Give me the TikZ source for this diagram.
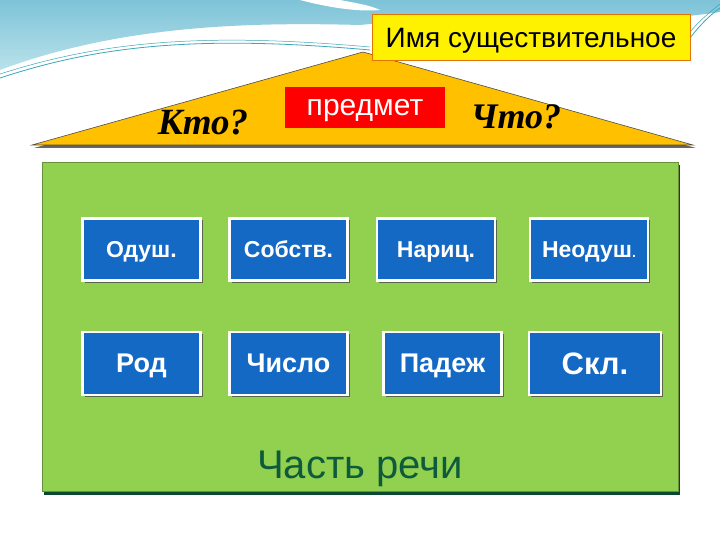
\documentclass[tikz,border=0pt]{standalone}
\usepackage{fontspec}
\setmainfont{Liberation Sans}
\newfontfamily\serifbi{Liberation Serif}
\usetikzlibrary{shadows}
\definecolor{roof}{HTML}{FFC000}
\definecolor{grass}{HTML}{92D050}
\definecolor{bluebox}{HTML}{1469C4}
\definecolor{darkgreen}{HTML}{0E5A3C}
\definecolor{sky}{HTML}{7EC3D8}
\definecolor{skyl}{HTML}{B9E2EA}
\definecolor{teal}{HTML}{3AA6B8}
\tikzset{
  ctext/.style={text depth=0pt},
  bbox/.style={draw=white, line width=2.5pt, fill=bluebox, text=white,
    ctext, minimum width=118pt, minimum height=62pt, inner sep=0pt,
    drop shadow={shadow xshift=2pt, shadow yshift=-2pt, fill=black!70, opacity=0.8}},
}
\begin{document}
\begin{tikzpicture}[x=1pt,y=-1pt]
\useasboundingbox (0,0) rectangle (720,540);
\fill[white] (0,0) rectangle (720,540);
% sky swoosh
\shade[top color=sky, bottom color=skyl] (0,0) -- (720,0) -- (720,12) .. controls (600,30) and (450,15) .. (360,25)
  .. controls (250,22) and (120,25) .. (0,70) -- cycle;
\fill[white] (300,0) .. controls (330,8) and (360,12) .. (380,10) .. controls (370,5) and (350,2) .. (340,0) -- cycle;
\draw[teal, line width=0.8pt] (0,78) .. controls (100,45) and (200,35) .. (370,50);
\draw[teal, line width=0.5pt] (0,74) .. controls (100,42) and (200,32) .. (370,47);
\draw[teal, line width=0.8pt] (690,38) .. controls (700,25) and (710,15) .. (720,8);
\draw[teal, line width=0.5pt] (690,32) .. controls (700,20) and (710,12) .. (720,4);
% roof
\fill[black!60] (34,148) -- (365,56) -- (696,148) -- cycle;
\path[fill=roof, draw=black!70, line width=0.6pt] (32,145) -- (363,52) -- (693,145) -- cycle;
\node[draw=orange!90!black, line width=1pt, fill=yellow, minimum width=318pt, minimum height=46pt, inner sep=0pt, ctext, font=\fontsize{28}{32}\selectfont] (noun) at (531,38) {Имя существительное};
\node[fill=red, text=white, minimum width=160pt, minimum height=41pt, inner sep=0pt, ctext, font=\fontsize{30}{34}\selectfont] (obj) at (365,107.5) {предмет};
\node[font=\serifbi\bfseries\itshape\fontsize{37}{40}\selectfont, ctext] (who) at (203,122) {Кто?};
\node[font=\serifbi\bfseries\itshape\fontsize{36}{40}\selectfont, ctext] (what) at (516,117) {Что?};
% green body
\fill[darkgreen!80!black] (44,165) rectangle (680,495);
\node[fill=grass, draw=grass!70!black, line width=0.5pt, minimum width=636pt, minimum height=329pt, inner sep=0pt, anchor=north west] (body) at (42,162) {};
\node[text=darkgreen, ctext, font=\fontsize{40}{44}\selectfont] (label) at (360,465) {Часть речи};
% boxes
\node[bbox, font=\bfseries\fontsize{23}{26}\selectfont] (b1) at (141.5,249.5) {Одуш.};
\node[bbox, font=\bfseries\fontsize{23}{26}\selectfont] (b2) at (288.5,249.5) {Собств.};
\node[bbox, font=\bfseries\fontsize{23}{26}\selectfont] (b3) at (436,249.5) {Нариц.};
\node[bbox, font=\bfseries\fontsize{23}{26}\selectfont] (b4) at (589,249.5) {Неодуш{\fontsize{14}{16}\selectfont .}};
\node[bbox, font=\bfseries\fontsize{27}{30}\selectfont, minimum height=63pt] (c1) at (141.5,363.5) {Род};
\node[bbox, font=\bfseries\fontsize{27}{30}\selectfont, minimum height=63pt] (c2) at (288.5,363.5) {Число};
\node[bbox, font=\bfseries\fontsize{27}{30}\selectfont, minimum height=63pt] (c3) at (442.5,363.5) {Падеж};
\node[bbox, font=\bfseries\fontsize{31}{34}\selectfont, minimum width=132pt, minimum height=63pt] (c4) at (595,363.5) {Скл.};
\end{tikzpicture}
\end{document}
